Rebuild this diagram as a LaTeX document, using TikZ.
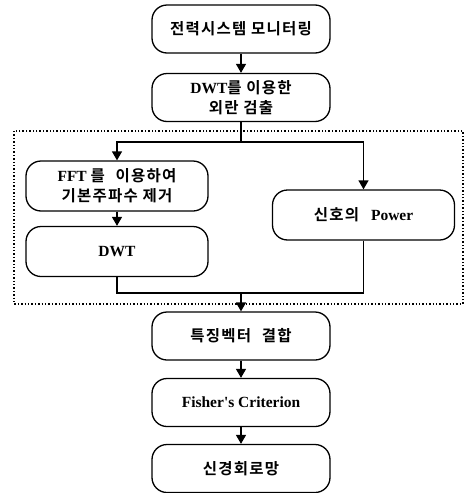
\documentclass[tikz,border=0pt]{standalone}
\usepackage{fontspec}
\setmainfont{Liberation Serif}
\newfontfamily\kr{Noto Sans CJK KR}[BoldFont={Noto Sans CJK KR Bold}, LetterSpace=8]
\usetikzlibrary{arrows.meta}

\begin{document}
\begin{tikzpicture}[x=1pt, y=-1pt,
  flow/.style={draw, line width=1.3pt, rounded corners=15pt, minimum width=178pt, minimum height=48pt, align=center, inner sep=2pt, font=\fontsize{15.5}{20}\selectfont\bfseries},
  wide/.style={minimum width=182pt, minimum height=50pt},
  link/.style={line width=1.3pt},
  go/.style={link, -{Triangle[length=9pt, width=10pt]}}
]
  \useasboundingbox (0,0) rectangle (468,493);

  % group frame
  \draw[line width=1.4pt, dotted] (14,131) rectangle (463,304);

  \node[flow] (mon) at (241,29) {\kr 전력시스템 모니터링};
  \node[flow] (detect) at (241,97.5) {DWT{\kr 를 이용한}\\{\kr 외란 검출}};
  \node[flow, wide] (fft) at (117,186) {FFT {\kr 를\hspace{6pt} 이용하여}\\{\kr 기본주파수 제거}};
  \node[flow, wide] (dwt) at (117,251.5) {DWT};
  \node[flow, wide] (power) at (363.5,215) {{\kr 신호의}\hspace{12pt}Power};
  \node[flow] (feat) at (241,336) {{\kr 특징벡터\hspace{6pt} 결합}};
  \node[flow] (fisher) at (241,402.5) {Fisher\textquotesingle s Criterion};
  \node[flow] (nn) at (241,468.5) {{\kr 신경회로망}};

  \coordinate (split) at (241,142);
  \coordinate (merge) at (241,293);

  \draw[go] (mon) -- (detect);
  \draw[link] (detect) -- (split);
  \draw[go] (split) -| (fft);
  \draw[go] (split) -| (power);
  \draw[go] (fft) -- (dwt);
  \draw[link] (dwt) |- (merge);
  \draw[link] (power) |- (merge);
  \draw[go] (merge) -- (feat);
  \draw[go] (feat) -- (fisher);
  \draw[go] (fisher) -- (nn);
\end{tikzpicture}
\end{document}
